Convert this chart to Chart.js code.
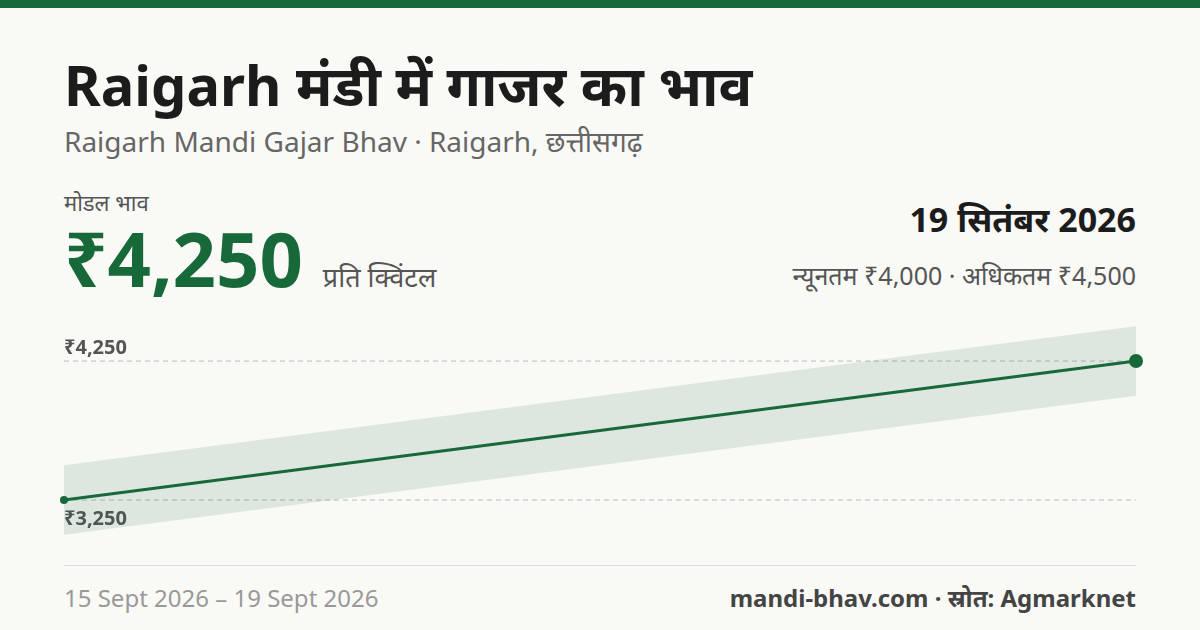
<!DOCTYPE html>
<html><head><meta charset="utf-8">
<script src="https://cdn.jsdelivr.net/npm/chart.js@4"></script>
<style>
body{margin:0;width:1200px;height:630px;background:#f9f9f6;font-family:"Noto Sans","Noto Sans Devanagari",sans-serif;position:relative;overflow:hidden;color:#1c1c1c}
.bar{position:absolute;left:0;top:0;width:1200px;height:8px;background:#17693a}
.t{position:absolute;white-space:nowrap}
</style></head><body>
<div class="bar"></div>
<div class="t" style="left:64px;top:46px;font-size:56px;font-weight:700">Raigarh मंडी में गाजर का भाव</div>
<div class="t" style="left:64px;top:122px;font-size:28px;color:#666">Raigarh Mandi Gajar Bhav · Raigarh, छत्तीसगढ़</div>
<div class="t" style="left:64px;top:187px;font-size:22px;color:#555">मोडल भाव</div>
<div class="t" style="left:64px;top:216px;font-size:76px;font-weight:700;color:#17693a;line-height:1.1">₹4,250 <span style="font-size:27px;font-weight:400;color:#555">प्रति क्विंटल</span></div>
<div class="t" style="right:64px;top:196px;font-size:34px;font-weight:700">19 सितंबर 2026</div>
<div class="t" style="right:64px;top:258px;font-size:25px;color:#555">न्यूनतम ₹4,000 · अधिकतम ₹4,500</div>
<div style="position:absolute;left:54px;top:310px;width:1092px;height:240px"><canvas id="c"></canvas></div>
<div style="position:absolute;left:64px;top:565px;width:1072px;height:1px;background:#ddd"></div>
<div class="t" style="left:64px;top:581px;font-size:24px;color:#999">15 Sept 2026 – 19 Sept 2026</div>
<div class="t" style="right:64px;top:581px;font-size:24px;font-weight:700;color:#444">mandi-bhav.com · स्रोत: Agmarknet</div>
<script>
const dates = ['15 Sept 2026', '19 Sept 2026']
const modal = [3250, 4250]
const minPrice = [3000, 4000]
const maxPrice = [3500, 4500]
const tickValues = [4250, 3250]
const green = '#17693a'

const guides = {
    id: 'guides',
    beforeDatasetsDraw(chart) {
        const { ctx, chartArea, scales } = chart
        ctx.save()
        ctx.setLineDash([5, 4])
        ctx.strokeStyle = '#bbb'
        ctx.lineWidth = 1
        ctx.font = '700 20px "Noto Sans", sans-serif'
        ctx.fillStyle = '#555'
        tickValues.forEach((v, i) => {
            const y = scales.y.getPixelForValue(v)
            ctx.beginPath()
            ctx.moveTo(chartArea.left, y)
            ctx.lineTo(chartArea.right, y)
            ctx.stroke()
            ctx.textBaseline = i == 0 ? 'bottom' : 'top'
            ctx.fillText('₹' + v.toLocaleString('en-IN'), chartArea.left, i == 0 ? y - 3 : y + 9)
        })
        ctx.restore()
    }
}

new Chart(document.getElementById('c'), {
    type: 'line',
    data: {
        labels: dates,
        datasets: [
            { data: maxPrice, borderWidth: 0, pointRadius: 0, fill: '+1', backgroundColor: 'rgba(23,105,58,0.12)' },
            { data: minPrice, borderWidth: 0, pointRadius: 0, fill: false },
            { data: modal, borderColor: green, borderWidth: 3, pointRadius: [4, 7], pointBackgroundColor: green, pointBorderWidth: 0, fill: false }
        ]
    },
    options: {
        responsive: true,
        maintainAspectRatio: false,
        animation: false,
        layout: { padding: { left: 10, right: 10 } },
        plugins: { legend: { display: false }, tooltip: { enabled: false } },
        scales: {
            x: { display: false, offset: false },
            y: { display: false, min: 2941, max: 4567 }
        }
    },
    plugins: [guides]
})
</script>
</body></html>
